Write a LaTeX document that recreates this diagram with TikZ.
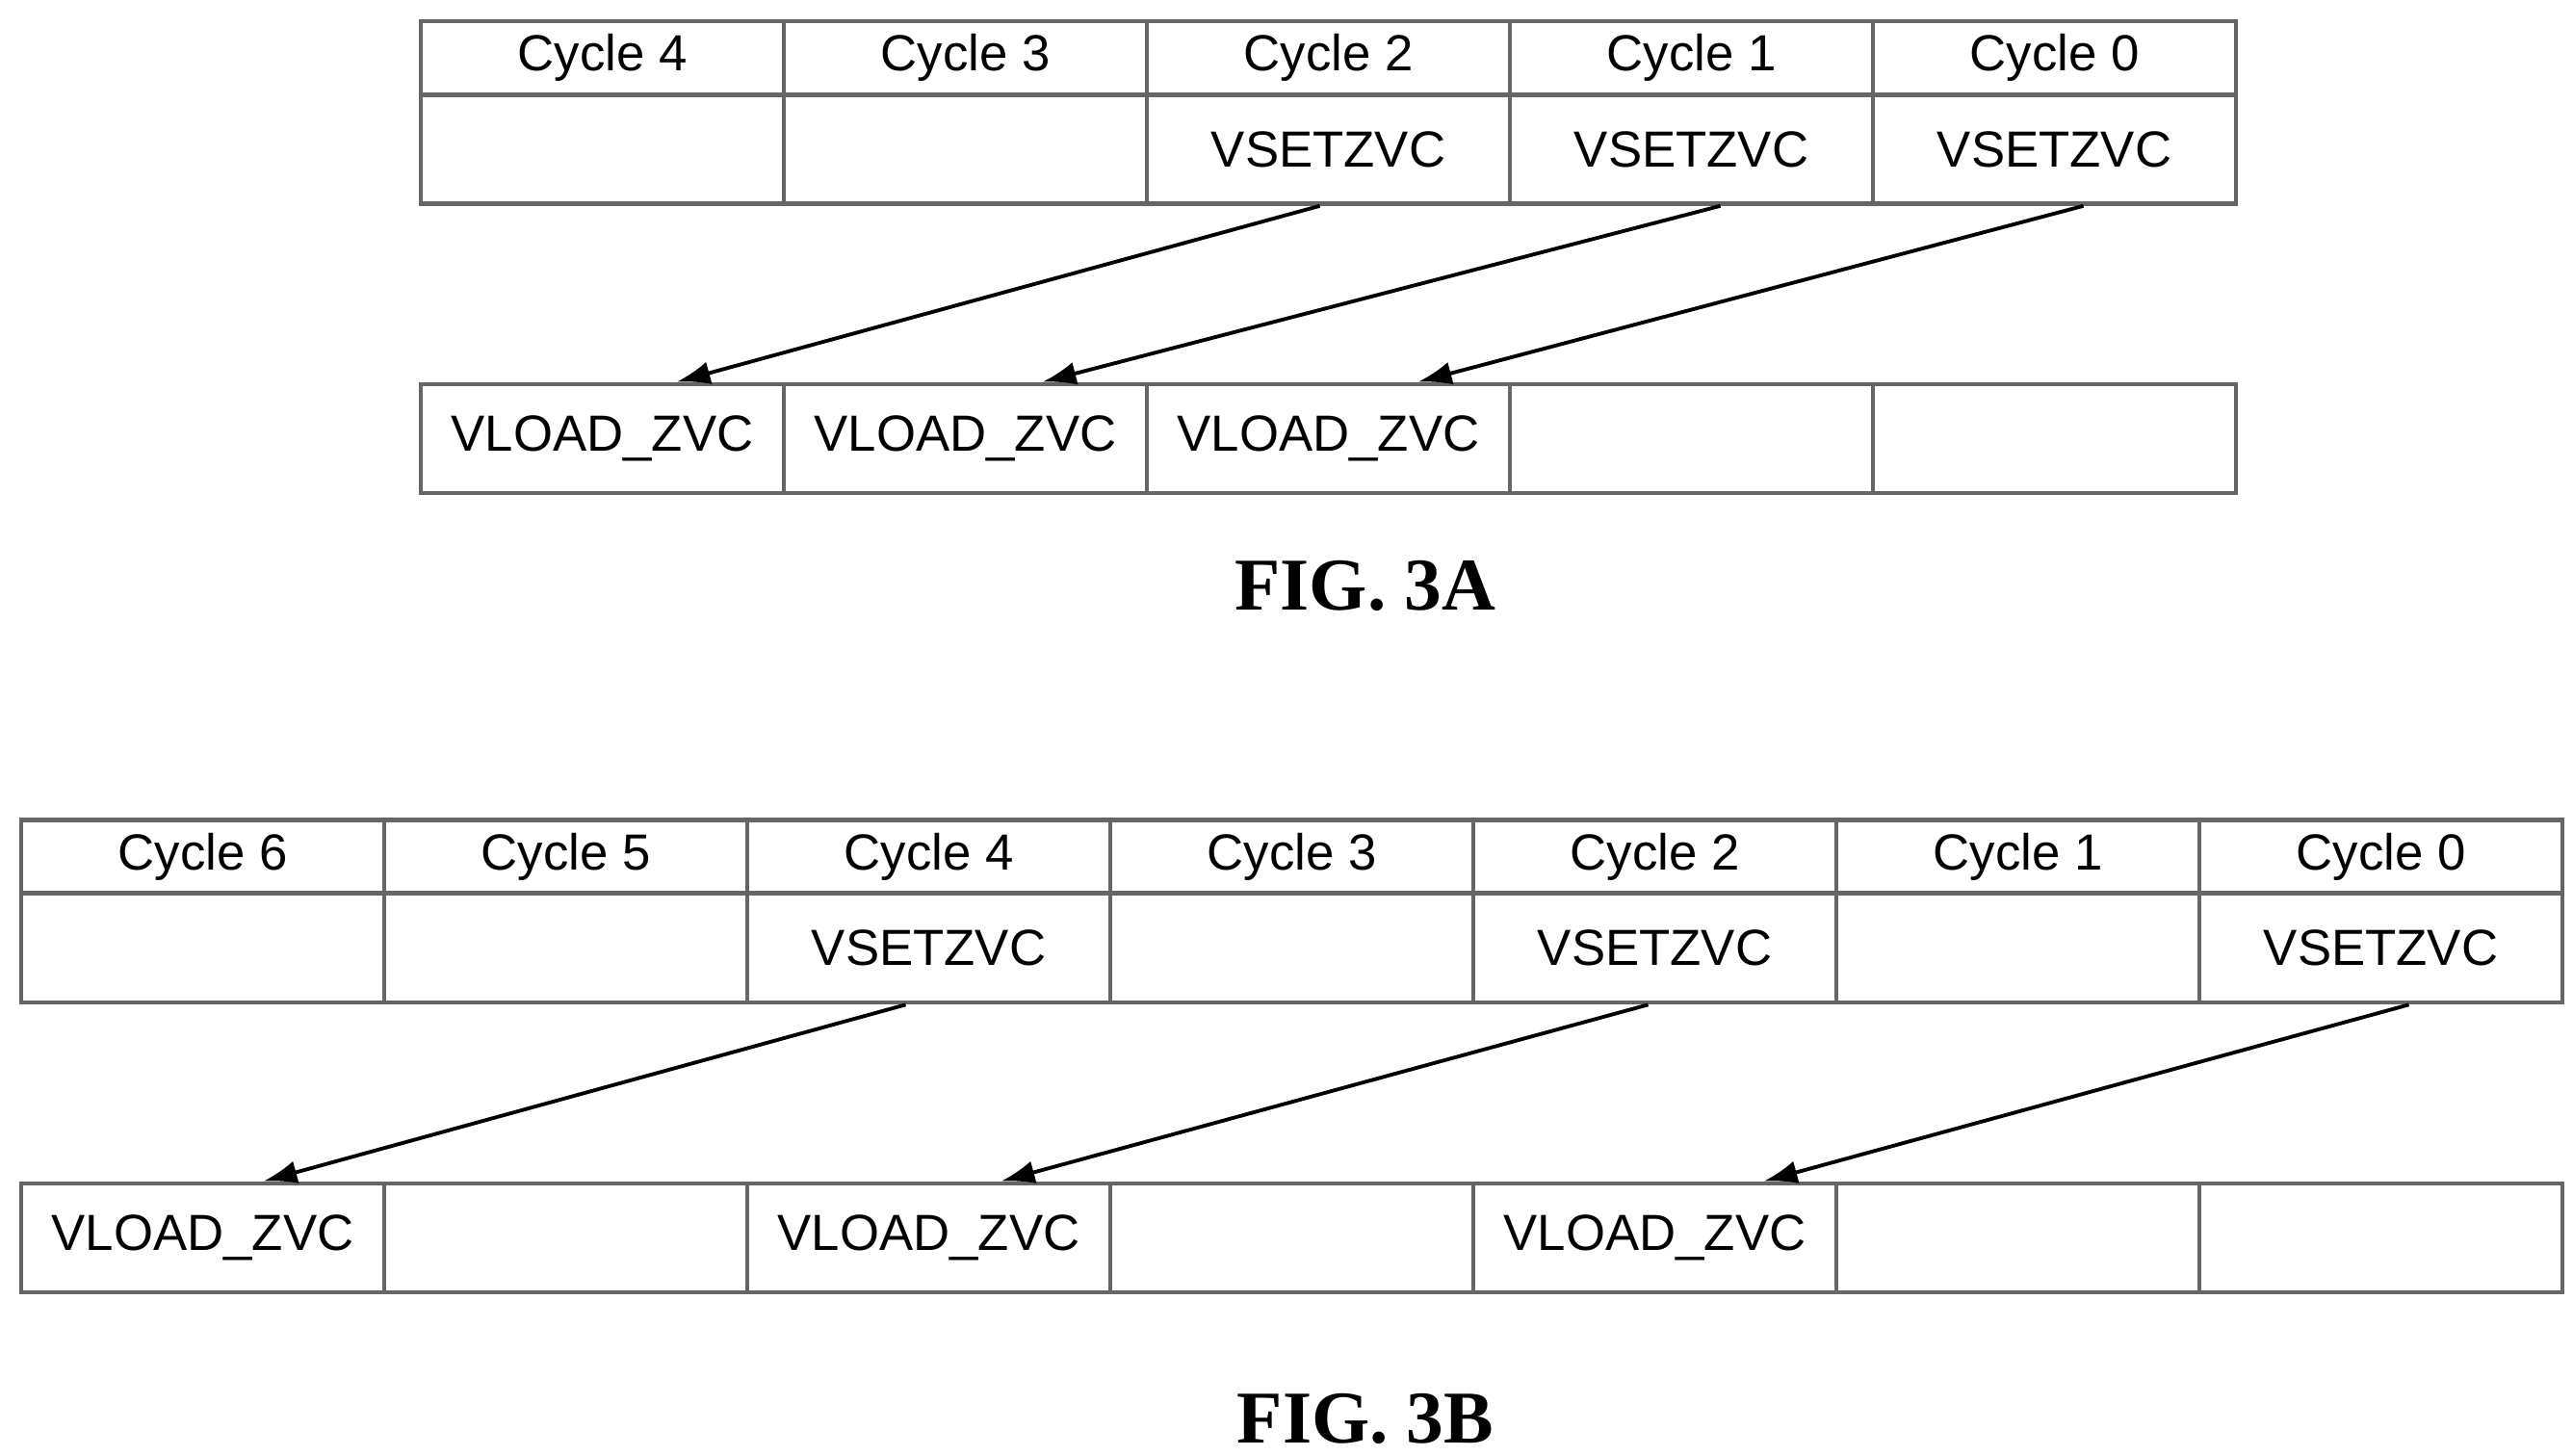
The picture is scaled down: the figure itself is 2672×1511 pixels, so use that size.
\documentclass[tikz,border=0pt]{standalone}
\usepackage{fontspec}
\setmainfont{Liberation Sans}
\newfontfamily\capfont{Liberation Serif}
\usetikzlibrary{arrows.meta,calc}

\begin{document}
\begin{tikzpicture}[x=0.01cm,y=-0.01cm]
	\tikzset{cell/.style={rectangle, draw=black!60, line width=1.3pt, inner sep=0pt, minimum width=3.77cm, font=\fontsize{15}{18}\selectfont}};
	\tikzset{head/.style={cell, minimum height=0.76cm}};
	\tikzset{row/.style={cell, minimum height=1.13cm}};
	\tikzset{caption/.style={font=\capfont\bfseries\fontsize{22}{26}\selectfont}};
	\tikzset{flow/.style={line width=1.1pt, -{Latex[length=3.5mm,width=2.4mm]}}};
	\useasboundingbox (0,0) rectangle (2672,1511);
	% Place nodes: FIG. 3A
	\foreach \i/\c/\t/\b in {0/4//VLOAD\_ZVC, 1/3//VLOAD\_ZVC, 2/2/VSETZVC/VLOAD\_ZVC, 3/1/VSETZVC/, 4/0/VSETZVC/} {
		\node [head] (ah\i) at ({625.5+377*\i}, 60) {Cycle \c};
		\node [row] (ar\i) at ({625.5+377*\i}, 155) {\t};
		\node [row] (al\i) at ({625.5+377*\i}, 455.5) {\b};
	}
	\node [caption] (capa) at (1418, 608) {FIG. 3A};
	% Place nodes: FIG. 3B
	\foreach \i/\c/\t/\b in {0/6//VLOAD\_ZVC, 1/5//, 2/4/VSETZVC/VLOAD\_ZVC, 3/3//, 4/2/VSETZVC/VLOAD\_ZVC, 5/1//, 6/0/VSETZVC/} {
		\node [head] (bh\i) at ({210.5+377*\i}, 889.5) {Cycle \c};
		\node [row] (br\i) at ({210.5+377*\i}, 984.5) {\t};
		\node [row] (bl\i) at ({210.5+377*\i}, 1285.5) {\b};
	}
	\node [caption] (capb) at (1418, 1473) {FIG. 3B};
	% Place draw
	\draw [flow] ([xshift=-0.09cm]ar2.south) -- ([xshift=0.77cm]al0.north);
	\draw [flow] ([xshift=0.3cm]ar3.south) -- ([xshift=0.80cm]al1.north);
	\draw [flow] ([xshift=0.3cm]ar4.south) -- ([xshift=0.93cm]al2.north);
	\draw [flow] ([xshift=-0.24cm]br2.south) -- ([xshift=0.63cm]bl0.north);
	\draw [flow] ([xshift=-0.07cm]br4.south) -- ([xshift=0.75cm]bl2.north);
	\draw [flow] ([xshift=0.29cm]br6.south) -- ([xshift=1.13cm]bl4.north);
\end{tikzpicture}
\end{document}
